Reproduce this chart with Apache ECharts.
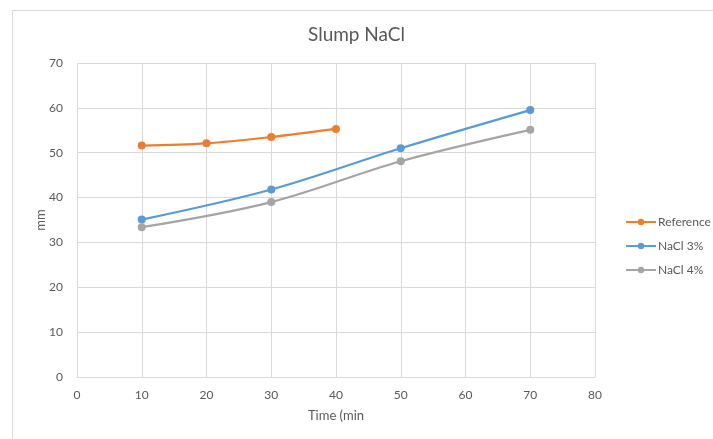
<!DOCTYPE html>
<html>
<head>
<meta charset="utf-8">
<script src="https://cdn.jsdelivr.net/npm/echarts@6/dist/echarts.min.js"></script>
<style>html,body{margin:0;padding:0;background:#fff;}#c{width:713px;height:439px;}</style>
</head>
<body>
<div id="c"></div>
<script>
var titleText = 'Slump NaCl';
var xName = 'Time (min';
var yName = 'mm';
var seriesNames = ['Reference', 'NaCl 3%', 'NaCl 4%'];
var refX = [10, 20, 30, 40];
var refY = [51.6, 52.1, 53.5, 55.3];
var nacl3X = [10, 30, 50, 70];
var nacl3Y = [35.1, 41.8, 51.0, 59.5];
var nacl4X = [10, 30, 50, 70];
var nacl4Y = [33.4, 39.0, 48.1, 55.1];
var colors = ['#ED7D31', '#5B9BD5', '#A5A5A5'];

function pairs(xs, ys) { return xs.map(function (x, i) { return [x, ys[i]]; }); }
var FONT = 'Lato';
var chart = echarts.init(document.getElementById('c'), null, { renderer: 'canvas' });
var mk = function (name, data, color) {
  return {
    name: name, type: 'line', data: data, smooth: 0.35,
    symbol: 'circle', symbolSize: 8,
    lineStyle: { color: color, width: 2.25 },
    itemStyle: { color: color },
    animation: false
  };
};
chart.setOption({
  animation: false,
  color: colors,
  graphic: [{
    type: 'rect', left: 10, top: 8,
    shape: { x: 0.5, y: 0.5, width: 720, height: 450 },
    style: { fill: 'none', stroke: '#D9D9D9', lineWidth: 1 },
    silent: true
  }],
  title: {
    text: titleText, left: 'center', top: 20,
    textStyle: { fontFamily: FONT, fontSize: 19, fontWeight: 'normal', color: '#595959' }
  },
  legend: {
    orient: 'vertical', left: 620, top: 211, itemGap: 12,
    itemWidth: 30, itemHeight: 8,
    textStyle: { fontFamily: FONT, fontSize: 12, color: '#595959', padding: [0, 0, 0, -3] },
    data: seriesNames
  },
  grid: { left: 77, right: 118, top: 63, bottom: 62, containLabel: false },
  xAxis: {
    type: 'value', min: 0, max: 80, interval: 10,
    name: xName, nameLocation: 'middle', nameGap: 32, nameMoveOverlap: false,
    nameTextStyle: { fontFamily: FONT, fontSize: 13, color: '#595959' },
    axisLine: { show: true, lineStyle: { color: '#D9D9D9' } },
    axisTick: { show: false },
    axisLabel: { fontFamily: FONT, fontSize: 12, color: '#595959', margin: 12 },
    splitLine: { show: true, lineStyle: { color: '#D9D9D9', width: 1 } }
  },
  yAxis: {
    type: 'value', min: 0, max: 70, interval: 10,
    name: yName, nameLocation: 'middle', nameGap: 30, nameRotate: 90, nameMoveOverlap: false,
    nameTextStyle: { fontFamily: FONT, fontSize: 13, color: '#595959' },
    axisLine: { show: false },
    axisTick: { show: false },
    axisLabel: { fontFamily: FONT, fontSize: 12, color: '#595959', margin: 14 },
    splitLine: { show: true, lineStyle: { color: '#D9D9D9', width: 1 } }
  },
  series: [
    mk(seriesNames[0], pairs(refX, refY), colors[0]),
    mk(seriesNames[1], pairs(nacl3X, nacl3Y), colors[1]),
    mk(seriesNames[2], pairs(nacl4X, nacl4Y), colors[2])
  ]
});
</script>
</body>
</html>
